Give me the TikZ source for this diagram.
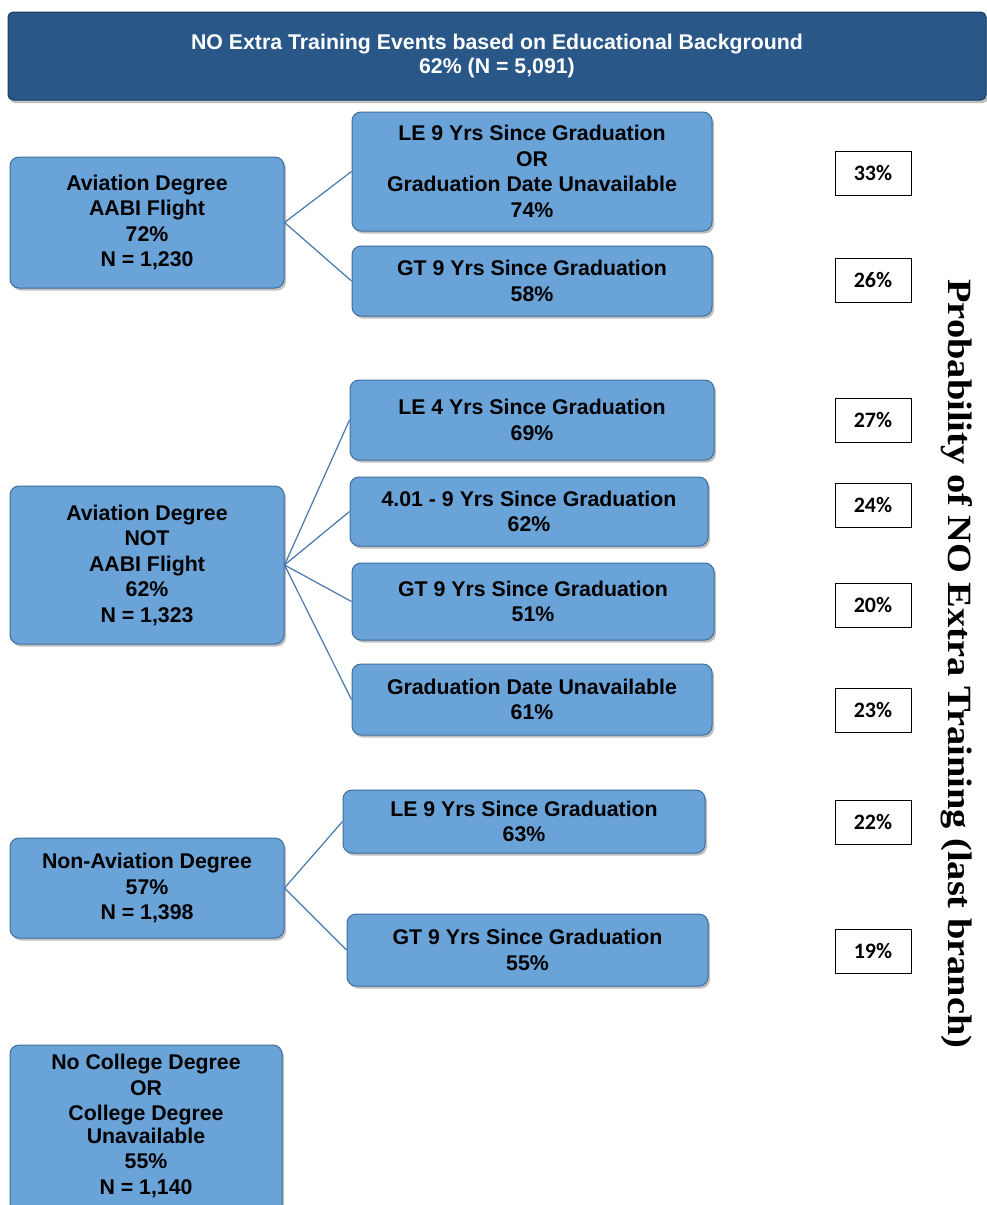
\documentclass[tikz,border=0pt]{standalone}
\usepackage{fontspec}
\setmainfont{Liberation Sans}
\newfontfamily\serifbold{Liberation Serif}
\newfontfamily\calib{Carlito}
\usetikzlibrary{shadows}
\definecolor{boxfill}{RGB}{106,163,216}
\definecolor{boxedge}{RGB}{62,110,160}
\definecolor{hdrfill}{RGB}{41,88,136}
\definecolor{hdredge}{RGB}{28,62,100}
\definecolor{linkcol}{RGB}{70,120,172}
\tikzset{
  bluebox/.style={draw=boxedge, line width=1pt, fill=boxfill, rounded corners=9pt,
    align=center, inner sep=0pt, font=\fontsize{21.3}{25.5}\selectfont\bfseries,
    drop shadow={shadow xshift=2pt, shadow yshift=-2.5pt, opacity=0.5}},
  hdrbox/.style={draw=hdredge, line width=1pt, fill=hdrfill, rounded corners=5pt,
    align=center, inner sep=0pt, text=white, font=\fontsize{21.3}{24}\selectfont\bfseries,
    drop shadow={shadow xshift=2pt, shadow yshift=-3pt, opacity=0.5}},
  pctbox/.style={draw=black, line width=0.9pt, fill=white, minimum width=76pt, minimum height=44pt,
    inner sep=0pt, font=\calib\bfseries\fontsize{22}{24}\selectfont},
  link/.style={draw=linkcol, line width=1.2pt}
}
\begin{document}
\begin{tikzpicture}[x=1pt,y=-1pt]
\useasboundingbox (0,0) rectangle (987,1205);
\begin{scope}
\clip (0,0) rectangle (987,1205);
% header
\node[hdrbox, minimum width=978pt, minimum height=88pt] (hdr) at (497,56)
  {NO Extra Training Events based on Educational Background\\62\% (N = 5,091)};
% level 1
\node[bluebox, minimum width=274pt, minimum height=131pt] (a1) at (147,222.5)
  {Aviation Degree\\AABI Flight\\72\%\\N = 1,230};
\node[bluebox, minimum width=274pt, minimum height=158pt] (a2) at (147,565)
  {Aviation Degree\\NOT\\AABI Flight\\62\%\\N = 1,323};
\node[bluebox, minimum width=274pt, minimum height=100pt] (a3) at (147,888)
  {Non-Aviation Degree\\57\%\\N = 1,398};
\node[bluebox, minimum width=272pt, minimum height=190pt] (a4) at (146,1140)
  {No College Degree\\OR\\College Degree\\[-3pt]Unavailable\\55\%\\N = 1,140\\[6pt]};
% level 2
\node[bluebox, minimum width=360pt, minimum height=119pt] (b1) at (532,171.5)
  {LE 9 Yrs Since Graduation\\OR\\Graduation Date Unavailable\\74\%};
\node[bluebox, minimum width=360pt, minimum height=70pt] (b2) at (532,281)
  {GT 9 Yrs Since Graduation\\58\%};
\node[bluebox, minimum width=364pt, minimum height=80pt] (c1) at (532,420)
  {LE 4 Yrs Since Graduation\\69\%};
\node[bluebox, minimum width=358pt, minimum height=69pt] (c2) at (529,511.5)
  {4.01 - 9 Yrs Since Graduation\\62\%};
\node[bluebox, minimum width=362pt, minimum height=77pt] (c3) at (533,601.5)
  {GT 9 Yrs Since Graduation\\51\%};
\node[bluebox, minimum width=360pt, minimum height=71pt] (c4) at (532,699.5)
  {Graduation Date Unavailable\\61\%};
\node[bluebox, minimum width=362pt, minimum height=63pt] (d1) at (524,821.5)
  {LE 9 Yrs Since Graduation\\63\%};
\node[bluebox, minimum width=361pt, minimum height=72pt] (d2) at (527.5,950)
  {GT 9 Yrs Since Graduation\\55\%};
% connectors
\draw[link] (a1.east) -- (b1.west);
\draw[link] (a1.east) -- (b2.west);
\draw[link] (a2.east) -- (c1.west);
\draw[link] (a2.east) -- (c2.west);
\draw[link] (a2.east) -- (c3.west);
\draw[link] (a2.east) -- (c4.west);
\draw[link] (a3.east) -- (d1.west);
\draw[link] (a3.east) -- (d2.west);
% probability boxes
\node[pctbox] (p1) at (873,173) {33\%};
\node[pctbox] (p2) at (873,280) {26\%};
\node[pctbox] (p3) at (873,420) {27\%};
\node[pctbox] (p4) at (873,505) {24\%};
\node[pctbox] (p5) at (873,605) {20\%};
\node[pctbox] (p6) at (873,710) {23\%};
\node[pctbox] (p7) at (873,822) {22\%};
\node[pctbox] (p8) at (873,951) {19\%};
% vertical label
\node[rotate=-90, inner sep=0pt, font=\serifbold\bfseries\fontsize{34}{38}\selectfont] (lbl) at (957,664)
  {\scalebox{1.13}[1]{Probability of NO Extra Training (last branch)}};
\end{scope}
\end{tikzpicture}
\end{document}
